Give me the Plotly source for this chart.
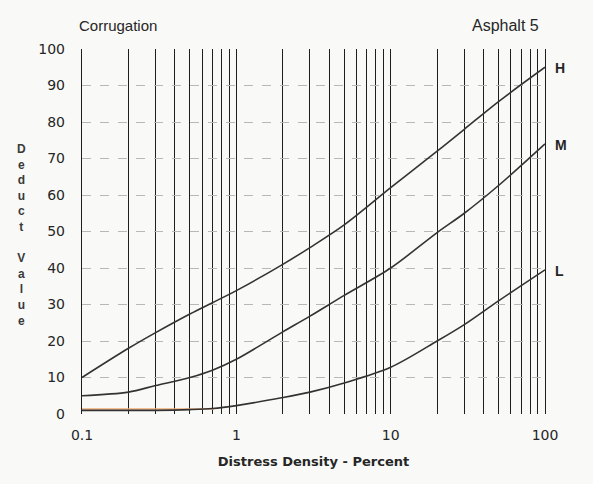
import plotly.graph_objects as go

# Distress density (percent) at which the curves are read
density = [0.1, 0.2, 0.3, 0.5, 0.7, 1, 2, 3, 5, 10, 20, 30, 50, 100]

# Deduct values per severity level
deduct_h = [10, 18, 22.3, 27.4, 30.5, 33.8, 41, 45.6, 51.8, 62, 72, 78, 85.6, 95]
deduct_m = [5, 6, 7.8, 10, 12, 15, 22.5, 26.8, 32.5, 40, 49.7, 55, 62.6, 74]
deduct_l = [1, 1, 1, 1.2, 1.5, 2.3, 4.5, 6, 8.5, 12.8, 20, 24.5, 31, 39.5]

severity_labels = ["H", "M", "L"]

# faint orange marker stroke near the baseline
marker_x = [0.1, 0.72]
marker_y = [1.4, 1.4]

# log grid positions and their labels
grid_x = [0.1, 0.2, 0.3, 0.4, 0.5, 0.6, 0.7, 0.8, 0.9,
          1, 2, 3, 4, 5, 6, 7, 8, 9,
          10, 20, 30, 40, 50, 60, 70, 80, 90, 100]
grid_x_text = ["0.1" if v == 0.1 else "1" if v == 1 else "10" if v == 10
               else "100" if v == 100 else "" for v in grid_x]
grid_y = list(range(0, 101, 10))

ink = "#262626"
sans = "Liberation Sans, Arial, sans-serif"
wide = "DejaVu Sans, sans-serif"

fig = go.Figure()

fig.add_trace(go.Scatter(x=marker_x, y=marker_y, mode="lines",
                         line=dict(color="#f2ad74", width=2), opacity=0.75,
                         hoverinfo="skip", showlegend=False))

for name, vals in zip(severity_labels, [deduct_h, deduct_m, deduct_l]):
    fig.add_trace(go.Scatter(x=density, y=vals, mode="lines", name=name,
                             line=dict(color="#333", width=1.6, shape="spline",
                                       smoothing=0.9),
                             showlegend=False))
    fig.add_annotation(x=2.0, y=vals[-1], xref="x", yref="y",
                       text="<b>" + name + "</b>", showarrow=False,
                       xanchor="left", yanchor="middle", xshift=8, yshift=-1,
                       font=dict(size=14, color=ink, family=sans))

# stacked vertical axis title
title_letters = list("Deduct") + [""] + list("Value")
fig.add_annotation(x=(22 - 82) / 463, y=(414 - 235) / 365,
                   xref="x domain", yref="y domain",
                   text="<b>" + "<br>".join(title_letters) + "</b>", showarrow=False,
                   xanchor="center", yanchor="middle",
                   font=dict(size=12, color="#3a3a3a", family=sans))

fig.add_annotation(x=(77 - 82) / 463, y=(414 - 25) / 365, xref="x domain", yref="y domain",
                   text="Corrugation", showarrow=False, xanchor="left", yanchor="middle",
                   font=dict(size=15, color=ink, family=sans))
fig.add_annotation(x=(541 - 82) / 463, y=(414 - 25) / 365, xref="x domain", yref="y domain",
                   text="Asphalt 5", showarrow=False, xanchor="right", yanchor="middle",
                   font=dict(size=16, color=ink, family=sans))

fig.update_layout(
    width=593, height=484,
    margin=dict(l=82, r=48, t=49, b=70),
    paper_bgcolor="#f9f9f7", plot_bgcolor="#f9f9f7",
    font=dict(family=sans, color=ink),
    xaxis=dict(type="log", range=[-1, 2], tickvals=grid_x, ticktext=grid_x_text,
               showgrid=True, gridcolor="#1e1e1e", gridwidth=1.4,
               ticks="", zeroline=False, showline=False,
               tickfont=dict(size=14, color=ink, family=wide), ticklabelstandoff=11,
               title=dict(text="<b>Distress Density - Percent</b>",
                          font=dict(size=13, color=ink, family=wide), standoff=14)),
    yaxis=dict(range=[0, 100], tickvals=grid_y, showgrid=True,
               gridcolor="#b8b8b8", gridwidth=1, griddash="dash",
               ticks="", zeroline=False, showline=True, mirror=True,
               linecolor="#1e1e1e", linewidth=1.4,
               tickfont=dict(size=14, color=ink, family=wide), ticklabelstandoff=13),
)

fig.write_html("out.html")
